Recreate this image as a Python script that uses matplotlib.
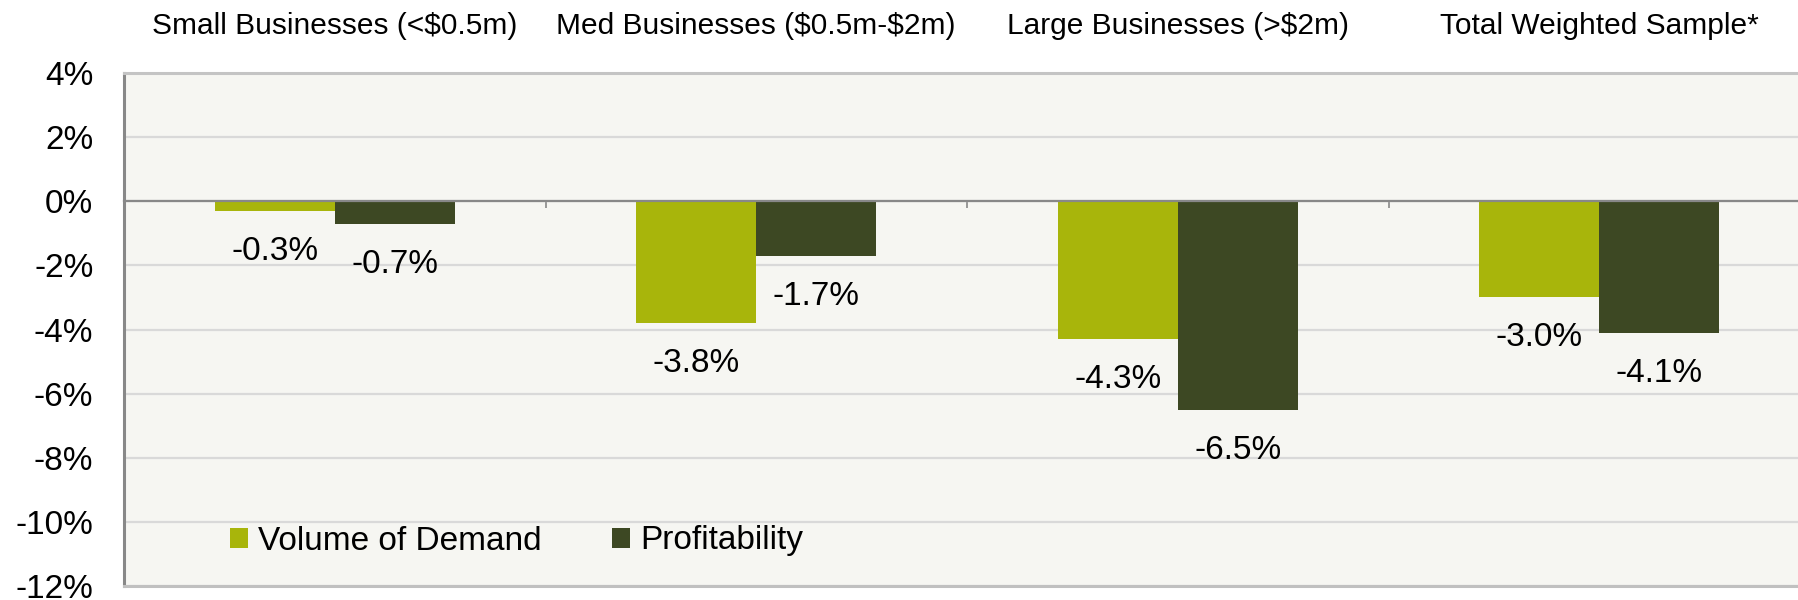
import matplotlib
matplotlib.use("Agg")
import matplotlib.pyplot as plt
import matplotlib.transforms as mtransforms
import numpy as np

plt.rcParams['font.family'] = ['Liberation Sans', 'DejaVu Sans']

categories = ['Small Businesses (<$0.5m)', 'Med Businesses ($0.5m-$2m)',
              'Large Businesses (>$2m)', 'Total Weighted Sample*']
demand = [-0.3, -3.8, -4.3, -3.0]
profit = [-0.7, -1.7, -6.5, -4.1]
series_names = ['Volume of Demand', 'Profitability']
yticks = [-12, -10, -8, -6, -4, -2, 0, 2, 4]

green = '#a8b50b'
dark = '#3d4823'

fig = plt.figure(figsize=(17.98, 6), dpi=100)
# axes run a little past the right edge, like the original export
ax = fig.add_axes([124 / 1798, 14 / 600, 1686 / 1798, 513 / 600])
ax.set_facecolor('#f6f6f2')

x = np.arange(len(categories))
w = 0.285
b1 = ax.bar(x - w / 2, demand, w, color=green, label=series_names[0], zorder=2)
b2 = ax.bar(x + w / 2, profit, w, color=dark, label=series_names[1], zorder=2)

ax.set_xlim(-0.5, len(categories) - 0.5)
ax.set_ylim(yticks[0], yticks[-1])
ax.set_yticks(yticks)
ax.set_yticklabels([f'{t}%' for t in yticks], fontsize=24)
ax.tick_params(axis='y', length=0, pad=22)

# gridlines and frame
ax.grid(axis='y', color='#d9d9d9', lw=1.6, zorder=0)
ax.set_axisbelow(True)
ax.spines['right'].set_visible(False)
ax.spines['top'].set_color('#c4c4c4')
ax.spines['top'].set_linewidth(2.2)
ax.spines['left'].set_color('#888888')
ax.spines['left'].set_linewidth(2.2)
ax.spines['bottom'].set_position(('data', 0))
ax.spines['bottom'].set_color('#888888')
ax.spines['bottom'].set_linewidth(1.6)
ax.spines['bottom'].set_zorder(3)
ax.axhline(yticks[0], color='#c0c0c0', lw=2.2, clip_on=False, zorder=3)

# category boundary ticks on the zero line
ax.set_xticks(x[:-1] + 0.5)
ax.set_xticklabels([])
ax.tick_params(axis='x', length=5, width=1.2, color='#888888', direction='out')

# category labels above the plot
trans = mtransforms.blended_transform_factory(ax.transData, fig.transFigure)
for i, name in enumerate(categories):
    ax.text(i, 1 - 12 / 600, name, transform=trans, ha='center', va='top',
            fontsize=21.5, color='black', parse_math=False)

# value labels under each bar
for bars, vals in ((b1, demand), (b2, profit)):
    for rect, v in zip(bars, vals):
        ax.annotate(f'{v:.1f}%', (rect.get_x() + rect.get_width() / 2, v),
                    xytext=(0, -18), textcoords='offset points',
                    ha='center', va='top', fontsize=24, color='black')

ax.legend(loc='center left', bbox_to_anchor=(230 / 1798, 1 - 541 / 600),
          bbox_transform=fig.transFigure, ncol=2, frameon=False, fontsize=24,
          handlelength=0.55, handleheight=0.55, handletextpad=0.3,
          columnspacing=2.1, borderpad=0, borderaxespad=0)

fig.savefig('out.png', dpi=100)
